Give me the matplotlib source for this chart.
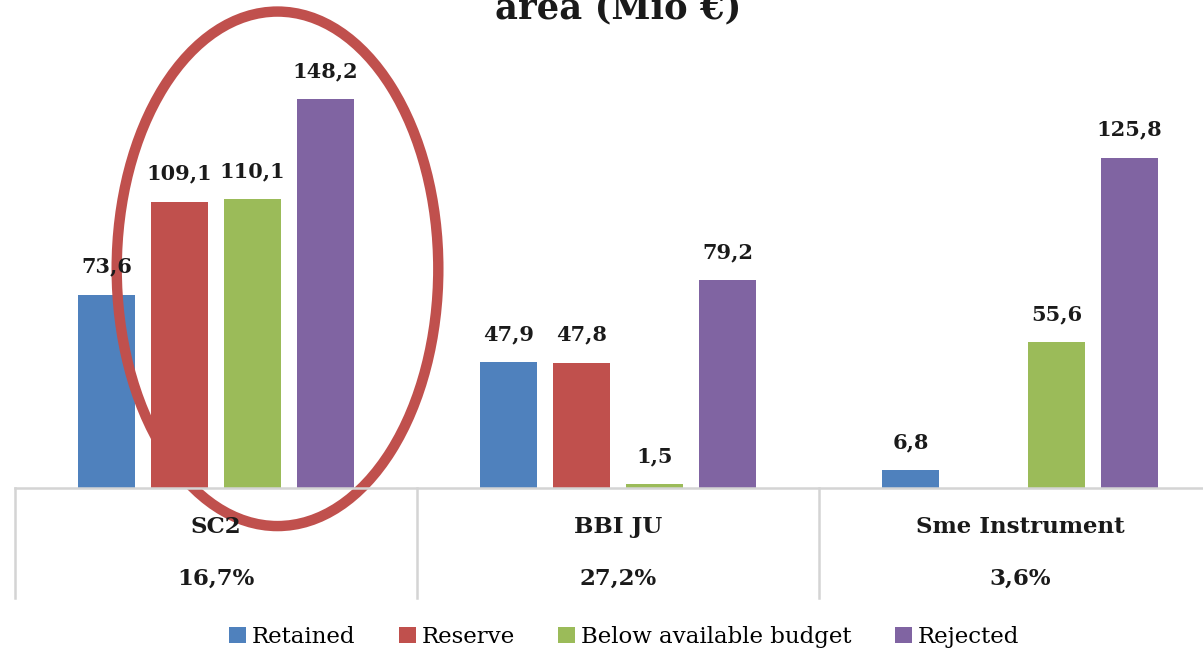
import numpy as np
import matplotlib
matplotlib.use("Agg")
import matplotlib.pyplot as plt
from matplotlib.patches import Ellipse, Patch
from matplotlib.transforms import blended_transform_factory

categories = ["SC2", "BBI JU", "Sme Instrument"]
shares = ["16,7%", "27,2%", "3,6%"]
series = ["Retained", "Reserve", "Below available budget", "Rejected"]
retained = [73.6, 47.9, 6.8]
reserve = [109.1, 47.8, np.nan]
below_budget = [110.1, 1.5, 55.6]
rejected = [148.2, 79.2, 125.8]
colors = ["#4f81bd", "#c0504d", "#9bbb59", "#8064a2"]

plt.rcParams["font.family"] = ["DejaVu Serif"]

W, H = 1203, 652
fig = plt.figure(figsize=(W / 100, H / 100), dpi=100)
base_px = 488
ax = fig.add_axes([15 / W, 1 - base_px / H, 1206 / W, base_px / H])

x = np.arange(len(categories))
width = 0.144
step = 0.1816
values = [retained, reserve, below_budget, rejected]
for i, (name, vals, col) in enumerate(zip(series, values, colors)):
    off = (i - 1.5) * step
    ax.bar(x + off, vals, width, color=col, label=name)
    for xi, v in zip(x + off, vals):
        if np.isnan(v):
            continue
        ax.annotate(f"{v:.1f}".replace(".", ","), (xi, v), xytext=(0, 13),
                    textcoords="offset points", ha="center", va="bottom",
                    fontsize=15, fontweight="bold", color="#1a1a1a")

ax.set_xlim(-0.5, len(categories) - 0.5)
ax.set_ylim(0, base_px / 2.625)
for s in ("top", "right", "left"):
    ax.spines[s].set_visible(False)
ax.spines["bottom"].set_color("#d4d4d4")
ax.spines["bottom"].set_linewidth(1.8)
ax.set_xticks([])
ax.set_yticks([])

# table below the bars
tr = blended_transform_factory(ax.transData, ax.transAxes)
for b in np.arange(len(categories) + 1) - 0.5:
    ax.plot([b, b], [0, -110 / base_px], color="#d4d4d4", lw=1.8,
            transform=tr, clip_on=False)
for xi, cat, sh in zip(x, categories, shares):
    ax.text(xi, -39 / base_px, cat, transform=tr, ha="center", va="center",
            fontsize=16.5, fontweight="bold", color="#1a1a1a")
    ax.text(xi, -91 / base_px, sh, transform=tr, ha="center", va="center",
            fontsize=16.5, fontweight="bold", color="#1a1a1a")

# highlight around SC2
ax.add_patch(Ellipse((x[0] + 0.153, 83.5), 0.80, 196, fill=False,
                     edgecolor="#c0504d", lw=7.5, clip_on=False))

# title is cropped at the top edge, as in the source
fig.text(618 / W, 1 - 18 / H, "area (Mio €)", ha="center", va="baseline",
         fontsize=25.5, fontweight="bold", color="#1a1a1a")

handles = [Patch(facecolor=c, label=n) for c, n in zip(colors, series)]
fig.legend(handles=handles, loc="center", bbox_to_anchor=(624 / W, 1 - 637 / H),
           ncol=4, frameon=False, fontsize=16.5, handlelength=0.75,
           handleheight=0.75, handletextpad=0.25, columnspacing=1.9)

fig.savefig("out.png", dpi=100)
